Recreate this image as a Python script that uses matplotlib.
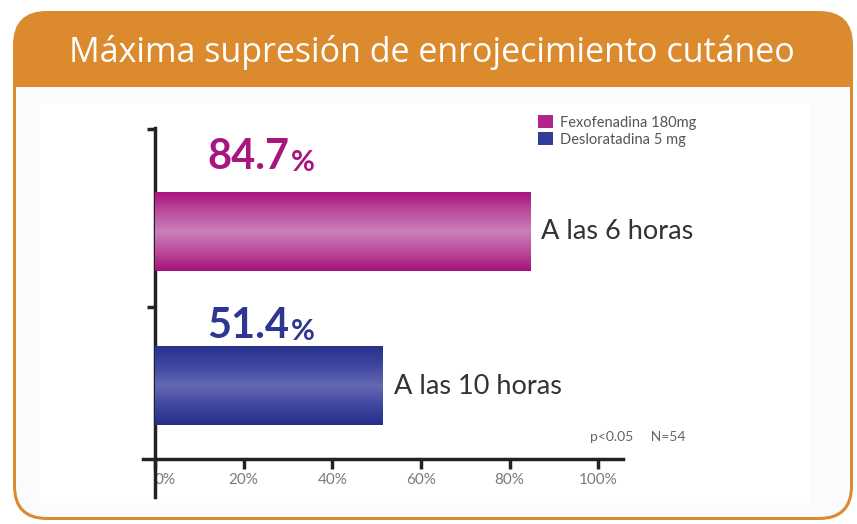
import numpy as np
import matplotlib
matplotlib.use('Agg')
import matplotlib.pyplot as plt
from matplotlib.patches import FancyBboxPatch, Rectangle
from matplotlib.colors import LinearSegmentedColormap

# datos
titulo = 'Máxima supresión de enrojecimiento cutáneo'
farmacos = ['Fexofenadina 180mg', 'Desloratadina 5 mg']
tiempos = ['A las 6 horas', 'A las 10 horas']
valores = [84.7, 51.4]
ticks_x = [0, 20, 40, 60, 80, 100]
nota = 'p<0.05     N=54'

naranja = '#db8a2e'
colores = ['#b2268a', '#333d98']
texto_col = ['#a8157e', '#2d3690']
gradientes = [
    ['#a9137b', '#bb4f9f', '#c97fba', '#bb4d9c', '#a5127a'],
    ['#28328d', '#3f479f', '#6469b4', '#3f479f', '#262f8a'],
]
sep_valor = [0.405, 0.31]  # altura del texto del valor sobre la barra

plt.rcParams['font.family'] = ['Lato', 'DejaVu Sans']

fig = plt.figure(figsize=(8.57, 5.24), dpi=100)

# fondo: marco redondeado con banda de titulo
bg = fig.add_axes([0, 0, 1, 1], zorder=0)
bg.set_xlim(0, 857)
bg.set_ylim(524, 0)
bg.axis('off')
bg.add_patch(FancyBboxPatch((13, 11), 840, 509, boxstyle='round,pad=0,rounding_size=34',
                            fc=naranja, ec='none'))
bg.add_patch(FancyBboxPatch((16, 87), 834, 430, boxstyle='round,pad=0,rounding_size=31',
                            fc='#f9fbfc', ec='none'))
bg.add_patch(Rectangle((16, 87), 834, 60, fc='#f9fbfc', ec='none'))
bg.add_patch(Rectangle((40, 103), 770, 400, fc='white', ec='none'))
bg.text(432, 53, titulo, color='white', fontsize=24.5, ha='center', va='center',
        family=['Open Sans', 'DejaVu Sans'])

# grafico
ax = fig.add_axes([143 / 857, 1 - 497 / 524, 480 / 857, 369 / 524], zorder=1)
ax.patch.set_alpha(0)
pos = [1, 0]
alto = 0.51

for i in range(2):
    ax.barh(pos[i], valores[i], height=alto, color=colores[i], label=farmacos[i], zorder=2)
    cmap = LinearSegmentedColormap.from_list('g%d' % i, gradientes[i])
    grad = np.linspace(0, 1, 100).reshape(-1, 1)
    ax.imshow(grad, cmap=cmap, aspect='auto', zorder=3,
              extent=[0, valores[i], pos[i] - alto / 2, pos[i] + alto / 2])
    # valor
    t = ax.text(11.8, pos[i] + sep_valor[i], ('%.1f' % valores[i]), color=texto_col[i],
                fontsize=30, fontweight='bold', ha='left', va='baseline', zorder=4)
    ax.annotate('%', xy=(1, 0), xycoords=t, xytext=(1, 0), textcoords='offset points',
                color=texto_col[i], fontsize=21, fontweight='bold', ha='left', va='bottom')
    # etiqueta
    ax.annotate(tiempos[i], xy=(valores[i], pos[i]), xytext=(8, 0), textcoords='offset points',
                fontsize=19.5, color='#333333', ha='left', va='center')

ax.set_xlim(-2.7, 105.6)
ax.set_ylim(-0.718, 1.67)

for s in ['top', 'right']:
    ax.spines[s].set_visible(False)
ax.spines['left'].set_position(('data', 0))
ax.spines['bottom'].set_position(('data', -0.4725))
for s in ['left', 'bottom']:
    ax.spines[s].set_linewidth(2.5)
    ax.spines[s].set_color('#222222')

ax.set_yticks([0.511, 1.665])
ax.set_yticklabels([])
ax.tick_params(axis='y', direction='out', length=6, width=2.5, color='#222222')
ax.set_xticks(ticks_x)
ax.set_xticklabels(['%d%%' % v for v in ticks_x])
ax.tick_params(axis='x', direction='out', length=7, width=2.5, color='#222222',
               labelcolor='#7a7a7a', labelsize=11, pad=3)
ax.get_xticklabels()[0].set_ha('left')

ax.text(98.2, -0.33, nota, color='#666666', fontsize=10, ha='left', va='center')

fig.legend(loc='upper left', bbox_to_anchor=(538 / 857, 1 - 115 / 524), frameon=False,
           fontsize=10.5, labelcolor='#555555', handlelength=1.0, handleheight=1.0,
           handletextpad=0.5, labelspacing=0.2, borderpad=0, borderaxespad=0)

fig.savefig('out.png', dpi=100)
